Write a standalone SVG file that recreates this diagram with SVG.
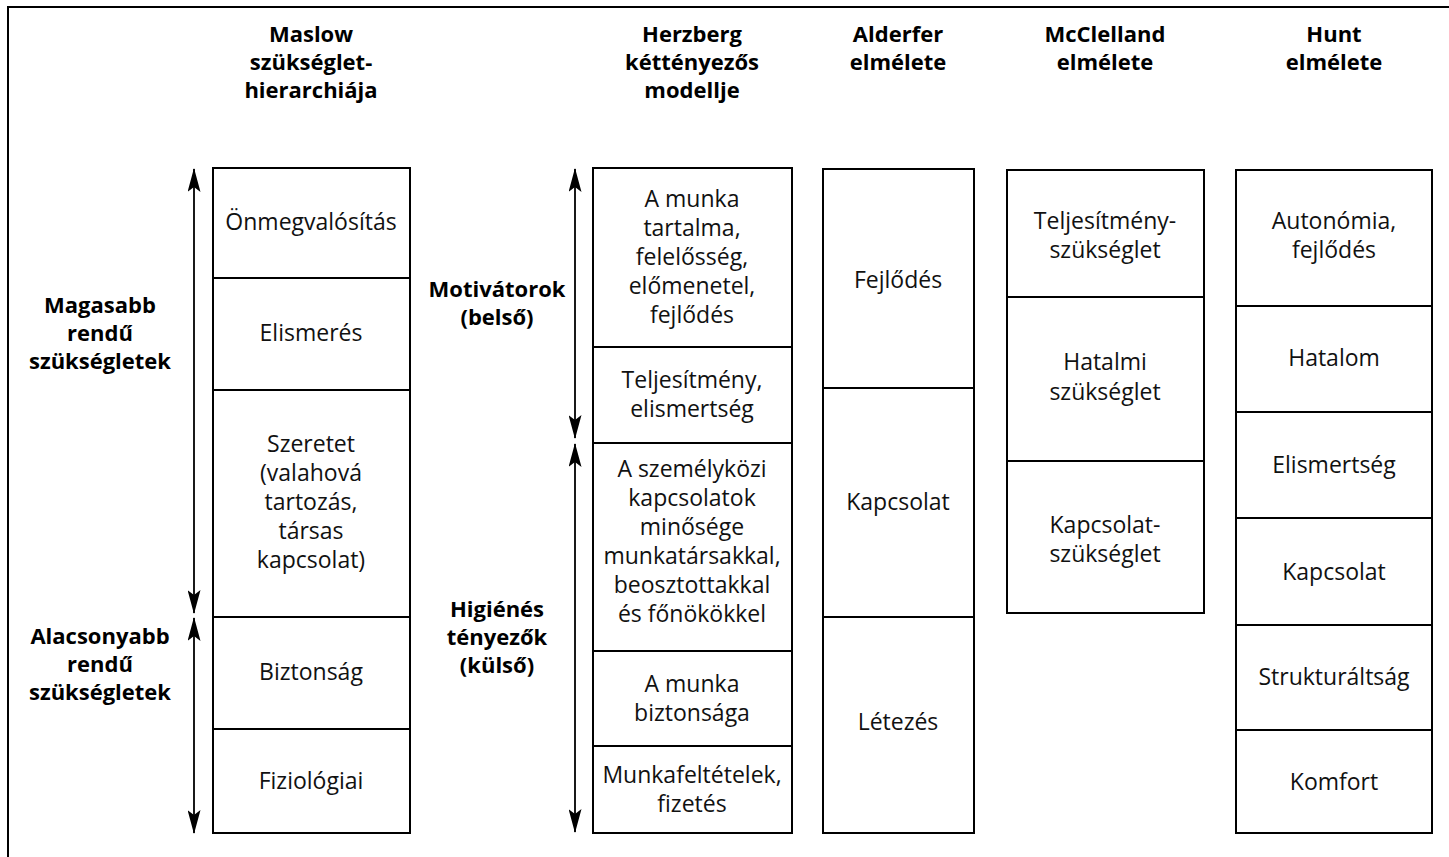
<svg xmlns="http://www.w3.org/2000/svg" width="1449" height="857" viewBox="0 0 1449 857">
  <style>
    .frame { fill: none; stroke: #000; stroke-width: 2; }
    .box { fill: #fff; stroke: #000; stroke-width: 2; }
    .div { stroke: #000; stroke-width: 2; }
    .t { font-family: "Open Sans", "Noto Sans", sans-serif; font-size: 23px; fill: #111; text-anchor: middle; }
    .h { font-family: "Open Sans", "Noto Sans", sans-serif; font-size: 22px; font-weight: 700; fill: #000; text-anchor: middle; }
    .arr { stroke: #000; stroke-width: 1.8; marker-start: url(#head); marker-end: url(#head); }
  </style>
  <defs>
    <marker id="head" viewBox="0 0 24 13" refX="23" refY="6.5" markerWidth="24" markerHeight="13" markerUnits="userSpaceOnUse" orient="auto-start-reverse">
      <path d="M0,0 L24,6.5 L0,13 L5,6.5 Z" fill="#000"/>
    </marker>
  </defs>

  <rect width="1449" height="857" fill="#fff"/>
  <!-- outer frame, open at right and bottom -->
  <path class="frame" d="M8,857 V7 H1449"/>

  <!-- column headings -->
  <g id="headings">
    <text class="h" x="311" y="42">Maslow</text>
    <text class="h" x="311" y="70">szükséglet-</text>
    <text class="h" x="311" y="98">hierarchiája</text>
    <text class="h" x="692" y="42">Herzberg</text>
    <text class="h" x="692" y="70">kéttényezős</text>
    <text class="h" x="692" y="98">modellje</text>
    <text class="h" x="898" y="42">Alderfer</text>
    <text class="h" x="898" y="70">elmélete</text>
    <text class="h" x="1105" y="42">McClelland</text>
    <text class="h" x="1105" y="70">elmélete</text>
    <text class="h" x="1334" y="42">Hunt</text>
    <text class="h" x="1334" y="70">elmélete</text>
  </g>

  <!-- side labels -->
  <g id="label-higher">
    <text class="h" x="100" y="313">Magasabb</text>
    <text class="h" x="100" y="341">rendű</text>
    <text class="h" x="100" y="369">szükségletek</text>
  </g>
  <g id="label-lower">
    <text class="h" x="100" y="644">Alacsonyabb</text>
    <text class="h" x="100" y="672">rendű</text>
    <text class="h" x="100" y="700">szükségletek</text>
  </g>
  <g id="label-motivators">
    <text class="h" x="497" y="297">Motivátorok</text>
    <text class="h" x="497" y="325">(belső)</text>
  </g>
  <g id="label-hygiene">
    <text class="h" x="497" y="617">Higiénés</text>
    <text class="h" x="497" y="645">tényezők</text>
    <text class="h" x="497" y="673">(külső)</text>
  </g>

  <!-- range arrows -->
  <g id="connectors">
    <line class="arr" x1="194" y1="169" x2="194" y2="613"/>
    <line class="arr" x1="194" y1="618" x2="194" y2="833"/>
    <line class="arr" x1="575" y1="169" x2="575" y2="438"/>
    <line class="arr" x1="575" y1="444" x2="575" y2="832"/>
  </g>

  <!-- Maslow -->
  <g id="maslow">
    <rect class="box" x="213" y="168" width="197" height="665"/>
    <line class="div" x1="213" y1="278" x2="410" y2="278"/>
    <line class="div" x1="213" y1="390" x2="410" y2="390"/>
    <line class="div" x1="213" y1="617" x2="410" y2="617"/>
    <line class="div" x1="213" y1="729" x2="410" y2="729"/>
    <text class="t" x="311" y="230">Önmegvalósítás</text>
    <text class="t" x="311" y="341">Elismerés</text>
    <text class="t" x="311" y="452">Szeretet</text>
    <text class="t" x="311" y="481">(valahová</text>
    <text class="t" x="311" y="510">tartozás,</text>
    <text class="t" x="311" y="539">társas</text>
    <text class="t" x="311" y="568">kapcsolat)</text>
    <text class="t" x="311" y="680">Biztonság</text>
    <text class="t" x="311" y="789">Fiziológiai</text>
  </g>

  <!-- Herzberg -->
  <g id="herzberg">
    <rect class="box" x="593" y="168" width="199" height="665"/>
    <line class="div" x1="593" y1="347" x2="792" y2="347"/>
    <line class="div" x1="593" y1="443" x2="792" y2="443"/>
    <line class="div" x1="593" y1="651" x2="792" y2="651"/>
    <line class="div" x1="593" y1="746" x2="792" y2="746"/>
    <text class="t" x="692" y="207">A munka</text>
    <text class="t" x="692" y="236">tartalma,</text>
    <text class="t" x="692" y="265">felelősség,</text>
    <text class="t" x="692" y="294">előmenetel,</text>
    <text class="t" x="692" y="323">fejlődés</text>
    <text class="t" x="692" y="388">Teljesítmény,</text>
    <text class="t" x="692" y="417">elismertség</text>
    <text class="t" x="692" y="477">A személyközi</text>
    <text class="t" x="692" y="506">kapcsolatok</text>
    <text class="t" x="692" y="535">minősége</text>
    <text class="t" x="692" y="564">munkatársakkal,</text>
    <text class="t" x="692" y="593">beosztottakkal</text>
    <text class="t" x="692" y="622">és főnökökkel</text>
    <text class="t" x="692" y="692">A munka</text>
    <text class="t" x="692" y="721">biztonsága</text>
    <text class="t" x="692" y="783">Munkafeltételek,</text>
    <text class="t" x="692" y="812">fizetés</text>
  </g>

  <!-- Alderfer -->
  <g id="alderfer">
    <rect class="box" x="823" y="169" width="151" height="664"/>
    <line class="div" x1="823" y1="388" x2="974" y2="388"/>
    <line class="div" x1="823" y1="617" x2="974" y2="617"/>
    <text class="t" x="898" y="288">Fejlődés</text>
    <text class="t" x="898" y="510">Kapcsolat</text>
    <text class="t" x="898" y="730">Létezés</text>
  </g>

  <!-- McClelland -->
  <g id="mcclelland">
    <rect class="box" x="1007" y="170" width="197" height="443"/>
    <line class="div" x1="1007" y1="297" x2="1204" y2="297"/>
    <line class="div" x1="1007" y1="461" x2="1204" y2="461"/>
    <text class="t" x="1105" y="229">Teljesítmény-</text>
    <text class="t" x="1105" y="258">szükséglet</text>
    <text class="t" x="1105" y="370">Hatalmi</text>
    <text class="t" x="1105" y="400">szükséglet</text>
    <text class="t" x="1105" y="533">Kapcsolat-</text>
    <text class="t" x="1105" y="562">szükséglet</text>
  </g>

  <!-- Hunt -->
  <g id="hunt">
    <rect class="box" x="1236" y="170" width="196" height="663"/>
    <line class="div" x1="1236" y1="306" x2="1432" y2="306"/>
    <line class="div" x1="1236" y1="412" x2="1432" y2="412"/>
    <line class="div" x1="1236" y1="518" x2="1432" y2="518"/>
    <line class="div" x1="1236" y1="625" x2="1432" y2="625"/>
    <line class="div" x1="1236" y1="730" x2="1432" y2="730"/>
    <text class="t" x="1334" y="229">Autonómia,</text>
    <text class="t" x="1334" y="258">fejlődés</text>
    <text class="t" x="1334" y="366">Hatalom</text>
    <text class="t" x="1334" y="473">Elismertség</text>
    <text class="t" x="1334" y="580">Kapcsolat</text>
    <text class="t" x="1334" y="685">Strukturáltság</text>
    <text class="t" x="1334" y="790">Komfort</text>
  </g>
</svg>
